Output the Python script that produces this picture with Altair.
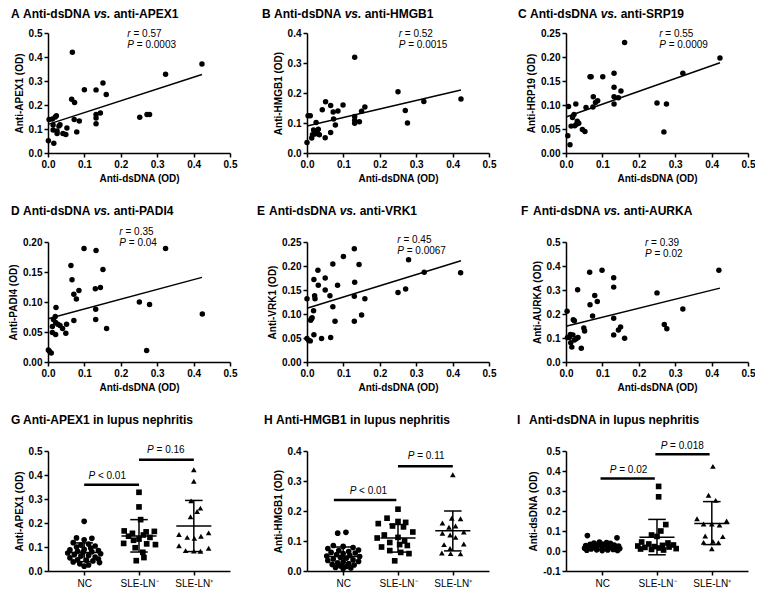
import altair as alt
import pandas as pd

FONT = "Liberation Sans"

# ---------------- scatter panels (x = anti-dsDNA OD) ----------------
a_x = [0.001, 0.003, 0.012, 0.02, 0.023, 0.014, 0.014, 0.016, 0.025, 0.03, 0.033, 0.025, 0.041, 0.049, 0.052,
       0.067, 0.065, 0.073, 0.072, 0.079, 0.086, 0.1, 0.132, 0.132, 0.132, 0.132, 0.144, 0.151, 0.16,
       0.252, 0.272, 0.279, 0.323, 0.423]
a_y = [0.051, 0.14, 0.142, 0.15, 0.155, 0.117, 0.096, 0.041, 0.092, 0.112, 0.118, 0.081, 0.081, 0.077, 0.104,
       0.42, 0.224, 0.21, 0.14, 0.088, 0.133, 0.264, 0.263, 0.16, 0.146, 0.122, 0.167, 0.292, 0.244,
       0.149, 0.16, 0.16, 0.328, 0.371]

b_x = [0.0, 0.003, 0.009, 0.013, 0.015, 0.018, 0.022, 0.025, 0.029, 0.031, 0.034, 0.042, 0.05, 0.051, 0.065,
       0.065, 0.072, 0.073, 0.078, 0.085, 0.099, 0.131, 0.131, 0.131, 0.131, 0.144, 0.15, 0.159, 0.25,
       0.27, 0.276, 0.321, 0.423]
b_y = [0.035, 0.124, 0.124, 0.05, 0.061, 0.077, 0.063, 0.102, 0.066, 0.079, 0.061, 0.144, 0.051, 0.171, 0.158,
       0.068, 0.137, 0.113, 0.093, 0.14, 0.16, 0.319, 0.122, 0.109, 0.099, 0.104, 0.139, 0.153, 0.204,
       0.142, 0.1, 0.172, 0.18]

c_x = [0.005, 0.007, 0.011, 0.014, 0.018, 0.022, 0.024, 0.027, 0.029, 0.031, 0.035, 0.045, 0.052, 0.055, 0.066,
       0.069, 0.074, 0.075, 0.081, 0.087, 0.101, 0.132, 0.132, 0.132, 0.132, 0.144, 0.151, 0.161, 0.25,
       0.269, 0.276, 0.321, 0.423]
c_y = [0.036, 0.097, 0.017, 0.056, 0.074, 0.08, 0.057, 0.102, 0.06, 0.066, 0.062, 0.049, 0.045, 0.095, 0.159,
       0.159, 0.096, 0.117, 0.105, 0.109, 0.159, 0.166, 0.137, 0.117, 0.102, 0.115, 0.129, 0.23, 0.104,
       0.044, 0.102, 0.166, 0.198]

d_x = [0.001, 0.004, 0.009, 0.012, 0.012, 0.015, 0.02, 0.021, 0.022, 0.021, 0.027, 0.033, 0.04, 0.049, 0.051,
       0.063, 0.066, 0.071, 0.071, 0.078, 0.085, 0.099, 0.132, 0.13, 0.131, 0.131, 0.144, 0.151, 0.161,
       0.251, 0.271, 0.279, 0.323, 0.424]
d_y = [0.02, 0.018, 0.015, 0.059, 0.049, 0.071, 0.076, 0.046, 0.091, 0.066, 0.063, 0.061, 0.056, 0.048, 0.063,
       0.161, 0.137, 0.113, 0.069, 0.105, 0.119, 0.189, 0.186, 0.122, 0.088, 0.071, 0.124, 0.154, 0.056,
       0.1, 0.019, 0.096, 0.189, 0.08]

e_x = [0.0, 0.0, 0.005, 0.009, 0.01, 0.012, 0.014, 0.018, 0.019, 0.019, 0.021, 0.022, 0.03, 0.031, 0.04,
       0.05, 0.05, 0.063, 0.065, 0.071, 0.071, 0.077, 0.084, 0.1, 0.13, 0.131, 0.13, 0.13, 0.143, 0.15,
       0.159, 0.25, 0.271, 0.279, 0.322, 0.422]
e_y = [0.132, 0.049, 0.045, 0.044, 0.087, 0.09, 0.092, 0.107, 0.057, 0.172, 0.138, 0.132, 0.191, 0.16, 0.049,
       0.175, 0.15, 0.138, 0.051, 0.204, 0.115, 0.085, 0.16, 0.22, 0.236, 0.166, 0.137, 0.085, 0.203, 0.098,
       0.132, 0.145, 0.152, 0.213, 0.187, 0.186]

f_x = [0.003, 0.004, 0.009, 0.012, 0.013, 0.016, 0.019, 0.02, 0.023, 0.023, 0.028, 0.032, 0.033, 0.042, 0.049,
       0.051, 0.065, 0.066, 0.073, 0.079, 0.086, 0.099, 0.131, 0.131, 0.131, 0.131, 0.144, 0.15, 0.161,
       0.25, 0.27, 0.277, 0.321, 0.42]
f_y = [0.211, 0.102, 0.102, 0.115, 0.08, 0.062, 0.113, 0.176, 0.172, 0.092, 0.097, 0.301, 0.102, 0.057, 0.142,
       0.129, 0.374, 0.239, 0.192, 0.277, 0.252, 0.382, 0.351, 0.312, 0.182, 0.113, 0.133, 0.146, 0.099,
       0.288, 0.156, 0.139, 0.221, 0.382]

# fitted regression lines (ends)
fit_x = [0.0, 0.423]
a_fit = [0.119, 0.327]
b_fit = [0.090, 0.210]
c_fit = [0.075, 0.188]
d_fit = [0.072, 0.141]
e_fit = [0.112, 0.211]
f_fit = [0.149, 0.308]

r_values = ["= 0.57", "= 0.52", "= 0.55", "= 0.35", "= 0.45", "= 0.39"]
p_values = ["= 0.0003", "= 0.0015", "= 0.0009", "= 0.04", "= 0.0067", "= 0.02"]
# annotation anchor: x, y of r line, y of P line
ann_pos = [(0.218, 0.496, 0.449), (0.252, 0.397, 0.359), (0.256, 0.248, 0.225),
           (0.196, 0.216, 0.198), (0.248, 0.255, 0.231), (0.217, 0.497, 0.448)]

x_ticks = [0.0, 0.1, 0.2, 0.3, 0.4, 0.5]

# ---------------- group panels ----------------
groups = ["NC", "SLE-LN⁻", "SLE-LN⁺"]

g_nc = [0.207, 0.138, 0.136, 0.13, 0.118, 0.112, 0.108, 0.104, 0.1, 0.095, 0.09, 0.088, 0.085, 0.082, 0.08,
        0.078, 0.075, 0.072, 0.068, 0.065, 0.062, 0.058, 0.055, 0.05, 0.047, 0.045, 0.042, 0.038, 0.035,
        0.03, 0.025, 0.02]
g_nc_off = [0.0, -0.14, 0.14, 0.0, -0.2, 0.08, -0.06, 0.2, -0.14, 0.12, 0.0, -0.26, 0.26, -0.12, 0.14,
            -0.02, -0.3, 0.3, -0.18, 0.08, -0.06, 0.2, -0.26, 0.26, -0.12, 0.04, 0.16, -0.2, 0.28,
            -0.08, 0.08, 0.0]
g_neg = [0.328, 0.267, 0.214, 0.167, 0.163, 0.165, 0.157, 0.150, 0.145, 0.14, 0.133, 0.128, 0.115, 0.113,
         0.110, 0.097, 0.078, 0.056, 0.043]
g_neg_off = [0.0, 0.0, 0.03, -0.27, 0.13, 0.28, -0.12, 0.08, -0.19, 0.2, 0.0, -0.1, -0.28, 0.14, 0.3,
             -0.07, 0.07, 0.09, -0.05]
g_pos = [0.422, 0.374, 0.292, 0.262, 0.248, 0.226, 0.159, 0.152, 0.145, 0.14, 0.136, 0.105, 0.095, 0.085,
         0.082, 0.083]
g_pos_off = [0.0, 0.0, -0.05, 0.12, 0.06, -0.06, 0.27, -0.27, 0.13, -0.12, 0.01, -0.27, 0.27, -0.15,
             0.12, 0.0]
g_mean = [0.077, 0.146, 0.188]
g_lo = [0.039, 0.079, 0.081]
g_hi = [0.117, 0.214, 0.294]

h_nc = [0.129, 0.126, 0.085, 0.082, 0.078, 0.075, 0.07, 0.068, 0.065, 0.062, 0.06, 0.058, 0.055, 0.052,
        0.05, 0.048, 0.045, 0.043, 0.04, 0.037, 0.035, 0.032, 0.03, 0.027, 0.025, 0.022, 0.02, 0.017,
        0.015, 0.012, 0.01, 0.008]
h_nc_off = [0.05, -0.1, -0.18, 0.0, 0.18, -0.28, 0.28, -0.08, 0.1, -0.22, 0.22, 0.0, -0.12, 0.12,
            -0.3, 0.3, -0.05, 0.06, -0.18, 0.18, -0.28, 0.28, 0.0, -0.1, 0.1, -0.2, 0.2, -0.05,
            0.06, -0.14, 0.14, 0.0]
h_neg = [0.206, 0.176, 0.165, 0.162, 0.158, 0.15, 0.147, 0.13, 0.12, 0.112, 0.11, 0.1, 0.095, 0.088,
         0.085, 0.08, 0.068, 0.062, 0.058, 0.034]
h_neg_off = [0.0, -0.2, 0.0, 0.14, -0.36, -0.1, 0.1, 0.27, -0.25, 0.0, -0.38, 0.12, -0.15, 0.03,
             0.17, -0.3, -0.15, 0.05, 0.2, -0.06]
h_pos = [0.321, 0.176, 0.174, 0.16, 0.15, 0.146, 0.13, 0.126, 0.12, 0.112, 0.09, 0.088, 0.075, 0.06,
         0.057, 0.058]
h_pos_off = [0.0, -0.02, 0.14, -0.19, 0.05, -0.07, 0.2, -0.19, -0.05, 0.05, 0.2, -0.16, -0.05, -0.2,
             0.14, -0.04]
h_mean = [0.048, 0.110, 0.134]
h_lo = [0.018, 0.063, 0.067]
h_hi = [0.080, 0.155, 0.200]

i_nc = [0.077, 0.066, 0.045, 0.042, 0.04, 0.038, 0.035, 0.033, 0.03, 0.03, 0.028, 0.027, 0.025, 0.024,
        0.022, 0.02, 0.02, 0.018, 0.017, 0.015, 0.014, 0.012, 0.01, 0.01, 0.008, 0.006, 0.005, 0.004,
        0.003, 0.002]
i_nc_off = [-0.27, 0.27, -0.05, 0.08, -0.15, 0.15, 0.0, -0.22, 0.22, -0.08, 0.08, -0.3, 0.3, 0.0,
            -0.18, 0.18, -0.25, 0.25, -0.1, 0.1, -0.32, 0.32, 0.0, -0.2, 0.2, -0.1, 0.1, -0.28,
            0.28, 0.0]
i_neg = [0.323, 0.271, 0.132, 0.1, 0.08, 0.073, 0.045, 0.04, 0.035, 0.03, 0.028, 0.025, 0.022, 0.02,
         0.018, 0.015, 0.012, 0.01, 0.008, 0.005]
i_neg_off = [0.03, 0.03, 0.16, 0.07, -0.1, 0.0, -0.28, 0.2, -0.15, 0.3, 0.1, -0.35, -0.05, 0.22,
             -0.22, 0.05, 0.35, -0.3, -0.1, 0.12]
i_pos = [0.423, 0.279, 0.253, 0.161, 0.15, 0.135, 0.135, 0.13, 0.075, 0.072, 0.048, 0.043, 0.042, 0.011]
i_pos_off = [0.02, -0.06, 0.07, -0.27, 0.27, -0.15, 0.0, 0.14, -0.12, 0.2, 0.02, -0.15, 0.12, 0.0]
i_mean = [0.024, 0.069, 0.137]
i_lo = [0.008, -0.019, 0.032]
i_hi = [0.040, 0.158, 0.247]

# significance bars: start, end, height; label centre x, y, label
g_bars = ([0.0, 1.0], [1.0, 2.0], [0.359, 0.464])
g_ptxt = ([0.42, 1.49], [0.395, 0.503], ["< 0.01", "= 0.16"])
h_bars = ([-0.17, 1.0], [0.97, 2.0], [0.237, 0.349])
h_ptxt = ([0.46, 1.52], [0.268, 0.382], ["< 0.01", "= 0.11"])
i_bars = ([-0.03, 0.97], [0.96, 1.96], [0.363, 0.484])
i_ptxt = ([0.48, 1.46], [0.403, 0.527], ["= 0.02", "= 0.018"])

# ---------------- helpers ----------------
BOLD = {' ': 278, '-': 333, '.': 278, 'A': 722, 'B': 722, 'C': 722, 'D': 722, 'E': 667, 'F': 611,
        'G': 778, 'H': 722, 'I': 278, 'K': 722, 'L': 611, 'M': 833, 'N': 722, 'O': 778, 'P': 667,
        'R': 722, 'S': 667, 'U': 722, 'V': 667, 'X': 667, 'a': 556, 'd': 611, 'e': 556, 'h': 611,
        'i': 278, 'l': 278, 'n': 611, 'p': 611, 'r': 389, 's': 556, 't': 333, 'u': 611, 'v': 556}
REG = {' ': 278, '=': 584, '<': 584, '.': 278, 'P': 667, 'r': 333}


def tw(s, table, size):
    return sum(table.get(ch, 556) for ch in s) * size / 1000.0


W, H = 182, 120
TFS = 12
AFS = 10
LFS = 10


def one_text(s, x, y, size=TFS, weight="bold", italic=False):
    return alt.Chart(pd.DataFrame({"t": [s]})).mark_text(
        align="left", baseline="middle", font=FONT, fontSize=size, fontWeight=weight,
        fontStyle="italic" if italic else "normal", color="black"
    ).encode(x=alt.value(x), y=alt.value(y), text="t:N")


def title_layers(letter, parts, dx, dy):
    out = [one_text(letter, dx, dy)]
    x = dx + 12
    for s, it in parts:
        out.append(one_text(s, x, dy, italic=it))
        x += tw(s + " ", BOLD, TFS)
    return out


def data_text(xv, yv, s, italic=False, dx=0.0):
    return alt.Chart(pd.DataFrame({"x": [xv], "y": [yv], "t": [s]})).mark_text(
        align="left", baseline="middle", font=FONT, fontSize=AFS,
        fontStyle="italic" if italic else "normal", color="black", dx=dx
    ).encode(x="x:Q", y="y:Q", text="t:N")


def num_axis(vals, expr, title, **kw):
    return alt.Axis(values=vals, tickCount=len(vals), labelExpr=expr, title=title,
                    labelOverlap=False, labelBound=False, labelFlush=False, **kw)


def fmt_expr(f):
    return ("datum.value < 0 ? '-' + format(-datum.value, '%s') : format(datum.value, '%s')" % (f, f))


def scatter_panel(idx, x, y, fit, ydom, yticks, yfmt, ytitle, letter, target, tdx, tdy):
    xs = alt.Scale(domain=[0, 0.5], nice=False, zero=False)
    ys = alt.Scale(domain=ydom, nice=False, zero=False)
    X = alt.X("x:Q", scale=xs, axis=num_axis(x_ticks, fmt_expr(".1f"), "Anti-dsDNA (OD)"))
    Y = alt.Y("y:Q", scale=ys, axis=num_axis(yticks, fmt_expr(yfmt), ytitle))
    pts = alt.Chart(pd.DataFrame({"x": x, "y": y})).mark_circle(
        size=30, color="black", opacity=1).encode(x=X, y=Y)
    line = alt.Chart(pd.DataFrame({"x": fit_x, "y": fit})).mark_line(
        color="black", strokeWidth=1.4).encode(x="x:Q", y="y:Q")
    ax, ry, py = ann_pos[idx]
    layers = [pts, line,
              data_text(ax, ry, "r", italic=True),
              data_text(ax, ry, r_values[idx], dx=tw("r ", REG, AFS)),
              data_text(ax, py, "P", italic=True),
              data_text(ax, py, p_values[idx], dx=tw("P ", REG, AFS))]
    layers += title_layers(letter, [("Anti-dsDNA", False), ("vs.", True), (target, False)], tdx, tdy)
    return alt.layer(*layers).properties(width=W, height=H)


def group_panel(vals, offs, mean, lo, hi, ydom, yticks, ytitle, bars, ptxt, letter, name, tdx, tdy):
    recs = []
    for gi, (vv, oo) in enumerate(zip(vals, offs)):
        for v, o in zip(vv, oo):
            recs.append({"x": gi + o, "y": v, "g": groups[gi]})
    df = pd.DataFrame(recs)
    label_expr = ("datum.value == 0 ? '%s' : datum.value == 1 ? '%s' : '%s'" % tuple(groups))
    X = alt.X("x:Q", scale=alt.Scale(domain=[-0.66, 2.66], nice=False, zero=False),
              axis=num_axis([0, 1, 2], label_expr, None, labelFontWeight="normal", labelPadding=3))
    Y = alt.Y("y:Q", scale=alt.Scale(domain=ydom, nice=False, zero=False),
              axis=num_axis(yticks, fmt_expr(".1f"), ytitle))
    pts = alt.Chart(df).mark_point(filled=True, color="black", opacity=1, size=32).encode(
        x=X, y=Y,
        shape=alt.Shape("g:N", scale=alt.Scale(domain=groups, range=["circle", "square", "triangle-up"]),
                        legend=None))
    gx = [0, 1, 2]
    mdf = pd.DataFrame({"x": [g - 0.32 for g in gx], "x2": [g + 0.32 for g in gx], "y": mean})
    mean_r = alt.Chart(mdf).mark_rule(color="black", strokeWidth=1.5).encode(x="x:Q", x2="x2:Q", y="y:Q")
    sdf = pd.DataFrame({"x": gx, "y": lo, "y2": hi})
    sd_r = alt.Chart(sdf).mark_rule(color="black", strokeWidth=1.5).encode(x="x:Q", y="y:Q", y2="y2:Q")
    cdf = pd.DataFrame({"x": [g - 0.16 for g in gx] * 2, "x2": [g + 0.16 for g in gx] * 2, "y": lo + hi})
    cap_r = alt.Chart(cdf).mark_rule(color="black", strokeWidth=1.5).encode(x="x:Q", x2="x2:Q", y="y:Q")
    bdf = pd.DataFrame({"x": bars[0], "x2": bars[1], "y": bars[2]})
    bar_r = alt.Chart(bdf).mark_rule(color="black", strokeWidth=2.5).encode(x="x:Q", x2="x2:Q", y="y:Q")
    layers = [pts, mean_r, sd_r, cap_r, bar_r]
    for tx, ty, lab in zip(*ptxt):
        total = tw("P " + lab, REG, AFS)
        layers.append(data_text(tx, ty, "P", italic=True, dx=-total / 2))
        layers.append(data_text(tx, ty, lab, dx=-total / 2 + tw("P ", REG, AFS)))
    layers += title_layers(letter, [(name, False)], tdx, tdy)
    return alt.layer(*layers).properties(width=W, height=H)


t01 = [0.0, 0.1, 0.2, 0.3, 0.4, 0.5]
t04 = [0.0, 0.1, 0.2, 0.3, 0.4]
t025 = [0.0, 0.05, 0.1, 0.15, 0.2, 0.25]
t020 = [0.0, 0.05, 0.1, 0.15, 0.2]

pA = scatter_panel(0, a_x, a_y, a_fit, [0, 0.5], t01, ".1f", "Anti-APEX1 (OD)", "A", "anti-APEX1", -37, -19)
pB = scatter_panel(1, b_x, b_y, b_fit, [0, 0.4], t04, ".1f", "Anti-HMGB1 (OD)", "B", "anti-HMGB1", -45, -19)
pC = scatter_panel(2, c_x, c_y, c_fit, [0, 0.25], t025, ".2f", "Anti-HRP19 (OD)", "C", "anti-SRP19", -48, -19)
pD = scatter_panel(3, d_x, d_y, d_fit, [0, 0.2], t020, ".2f", "Anti-PADI4 (OD)", "D", "anti-PADI4", -37, -31)
pE = scatter_panel(4, e_x, e_y, e_fit, [0, 0.25], t025, ".2f", "Anti-VRK1 (OD)", "E", "anti-VRK1", -50, -31)
pF = scatter_panel(5, f_x, f_y, f_fit, [0, 0.5], t01, ".1f", "Anti-AURKA (OD)", "F", "anti-AURKA", -45, -31)

pG = group_panel([g_nc, g_neg, g_pos], [g_nc_off, g_neg_off, g_pos_off], g_mean, g_lo, g_hi,
                 [0, 0.5], t01, "Anti-APEX1 (OD)", g_bars, g_ptxt, "G", "Anti-APEX1 in lupus nephritis", -37, -31)
pH = group_panel([h_nc, h_neg, h_pos], [h_nc_off, h_neg_off, h_pos_off], h_mean, h_lo, h_hi,
                 [0, 0.4], t04, "Anti-HMGB1 (OD)", h_bars, h_ptxt, "H", "Anti-HMGB1 in lupus nephritis", -43, -31)
pI = group_panel([i_nc, i_neg, i_pos], [i_nc_off, i_neg_off, i_pos_off], i_mean, i_lo, i_hi,
                 [-0.1, 0.5], [-0.1, 0.0, 0.1, 0.2, 0.3, 0.4, 0.5], "Anti-dsDNA (OD)", i_bars, i_ptxt,
                 "I", "Anti-dsDNA in lupus nephritis", -49, -31)

chart = alt.concat(pA, pB, pC, pD, pE, pF, pG, pH, pI, columns=3,
                   spacing={"row": 89, "column": 77}, bounds="flush", padding=0).configure_axis(
    labelFont=FONT, labelFontSize=LFS, labelFontWeight="bold", labelColor="black",
    titleFont=FONT, titleFontSize=LFS, titleFontWeight="bold", titleColor="black",
    domainColor="black", domainWidth=1.5, tickColor="black", tickWidth=1.5, tickSize=4,
    labelPadding=2, titlePadding=4, grid=False
).configure_view(stroke=None)

chart.save("out.html", embed_options={"renderer": "svg", "actions": False})
